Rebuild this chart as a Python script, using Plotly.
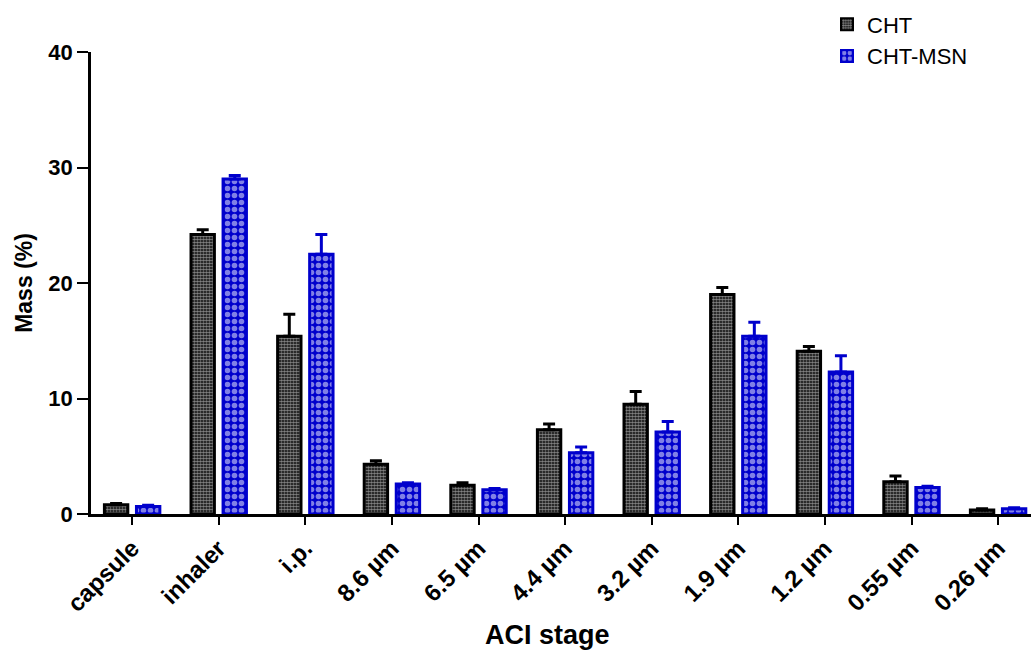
import plotly.graph_objects as go

# ACI stage deposition (mass %) for the two formulations
stages = ["capsule", "inhaler", "i.p.", "8.6 µm", "6.5 µm", "4.4 µm",
          "3.2 µm", "1.9 µm", "1.2 µm", "0.55 µm", "0.26 µm"]
cht_mean = [0.8, 24.2, 15.4, 4.3, 2.5, 7.3, 9.5, 19.0, 14.1, 2.8, 0.35]
cht_err = [0.1, 0.4, 1.9, 0.3, 0.2, 0.5, 1.1, 0.6, 0.4, 0.5, 0.1]
msn_mean = [0.65, 29.0, 22.5, 2.6, 2.1, 5.3, 7.1, 15.4, 12.3, 2.3, 0.45]
msn_err = [0.1, 0.3, 1.7, 0.1, 0.1, 0.5, 0.9, 1.2, 1.4, 0.1, 0.1]

BLACK = "#000000"
BLUE = "#0000CC"
FONT = "Arial, Liberation Sans, sans-serif"

fig = go.Figure()
fig.add_trace(go.Bar(
    name="CHT", x=stages, y=cht_mean,
    width=0.27, offset=-0.32,
    marker=dict(color=BLACK,
                line=dict(color=BLACK, width=3),
                pattern=dict(shape=".", fgcolor="white", bgcolor=BLACK,
                             size=3, solidity=0.65)),
    error_y=dict(type="data", symmetric=False, array=cht_err,
                 arrayminus=[0] * len(cht_err),
                 color=BLACK, thickness=3, width=6),
))
fig.add_trace(go.Bar(
    name="CHT-MSN", x=stages, y=msn_mean,
    width=0.27, offset=0.05,
    marker=dict(color=BLUE,
                line=dict(color=BLUE, width=3),
                pattern=dict(shape=".", fgcolor="white", bgcolor=BLUE,
                             size=7, solidity=0.5)),
    error_y=dict(type="data", symmetric=False, array=msn_err,
                 arrayminus=[0] * len(msn_err),
                 color=BLUE, thickness=3, width=6),
))

fig.update_layout(
    width=1031, height=652,
    margin=dict(l=91, r=0, t=52, b=138),
    plot_bgcolor="white", paper_bgcolor="white",
    font=dict(family=FONT, color=BLACK),
    showlegend=True,
    legend=dict(x=0.783, y=1.105, xanchor="left", yanchor="top",
                font=dict(size=22, family=FONT), bgcolor="rgba(0,0,0,0)",
                tracegroupgap=0, itemsizing="constant"),
    annotations=[dict(
        text="ACI stage", xref="paper", yref="paper",
        x=0.486, y=-0.226, xanchor="center", yanchor="top", showarrow=False,
        font=dict(size=27, family=FONT, weight="bold", color=BLACK),
    )],
)
fig.update_xaxes(
    range=[-0.475, 10.38],
    showline=True, linecolor=BLACK, linewidth=2.5,
    ticks="outside", ticklen=8, tickwidth=2, tickcolor=BLACK,
    tickangle=-45,
    tickfont=dict(size=24, family=FONT, weight="bold"),
    showgrid=False, zeroline=False,
)
fig.update_yaxes(
    range=[0, 40], tickvals=[0, 10, 20, 30, 40],
    showline=True, linecolor=BLACK, linewidth=2.5,
    ticks="outside", ticklen=11, tickwidth=2, tickcolor=BLACK,
    tickfont=dict(size=22, family=FONT, weight="bold"),
    title=dict(text="Mass (%)", font=dict(size=23, family=FONT, weight="bold"),
               standoff=10),
    showgrid=False, zeroline=False,
)

fig.write_html("out.html")
